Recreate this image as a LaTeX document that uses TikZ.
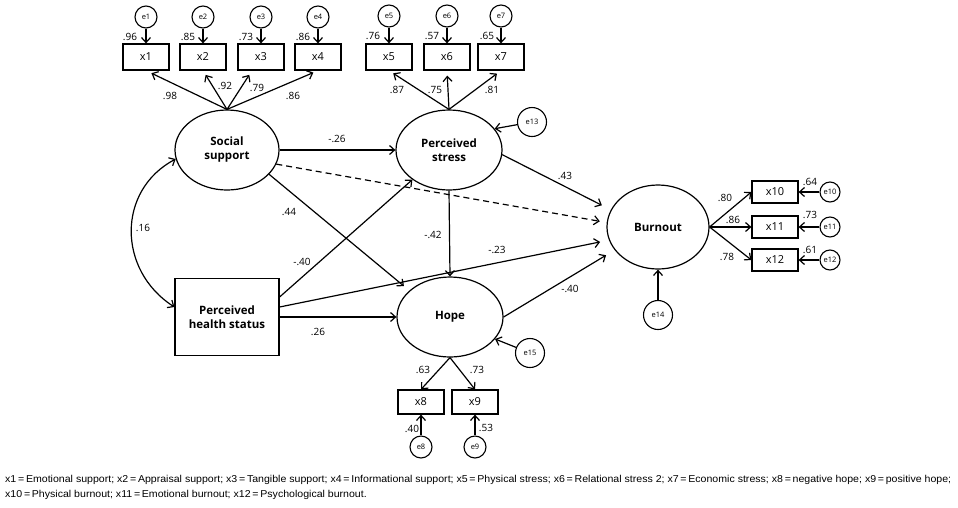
\documentclass[tikz,border=0pt]{standalone}
\usepackage{graphicx}
\usepackage{fontspec}
\setmainfont{Open Sans}
\newfontfamily\capfont{Liberation Sans}
\usetikzlibrary{shapes.geometric,arrows.meta}
\begin{document}
\begin{tikzpicture}[x=1pt,y=-1pt,
  lat/.style={ellipse,draw,line width=1.2pt,inner sep=0pt,align=center,font=\bfseries\fontsize{11.5}{14}\selectfont},
  obs/.style={rectangle,draw,line width=1.2pt,minimum width=46pt,minimum height=25pt,inner sep=0pt,font=\fontsize{11}{12}\selectfont},
  err/.style={circle,draw,line width=1.1pt,minimum size=22pt,inner sep=0pt,font=\fontsize{7.5}{8}\selectfont},
  errb/.style={err,minimum size=29pt},
  errs/.style={err,minimum size=20pt},
  arr/.style={draw,line width=1.2pt,-{Straight Barb[length=5pt,width=9pt,line width=1.2pt]}},
  lab/.style={inner sep=0pt,font=\fontsize{10}{11}\selectfont}
]
\useasboundingbox (0,0) rectangle (958,507);

% latent variables
\node[lat,minimum width=104pt,minimum height=80pt] (ss) at (227,150) {Social\\support};
\node[lat,minimum width=106pt,minimum height=80pt] (ps) at (449,150) {Perceived\\stress};
\node[lat,minimum width=106pt,minimum height=80pt] (hope) at (450,317) {Hope};
\node[lat,minimum width=102pt,minimum height=84pt] (bo) at (658,227) {Burnout};
\node[obs,minimum width=104pt,minimum height=77pt,align=center,font=\bfseries\fontsize{11.5}{14}\selectfont] (hs) at (227,317) {Perceived\\health status};

% indicators
\node[obs,minimum height=26pt] (x1) at (146,57) {x1};
\node[obs,minimum height=26pt] (x2) at (203,57) {x2};
\node[obs,minimum height=26pt] (x3) at (261,57) {x3};
\node[obs,minimum height=26pt] (x4) at (318,57) {x4};
\node[obs,minimum height=26pt] (x5) at (389,57) {x5};
\node[obs,minimum height=26pt] (x6) at (447,57) {x6};
\node[obs,minimum height=26pt] (x7) at (501,57) {x7};
\node[obs,minimum height=24pt] (x8) at (421,402) {x8};
\node[obs,minimum height=24pt] (x9) at (475,402) {x9};
\node[obs,minimum height=22pt] (x10) at (775,192) {x10};
\node[obs,minimum height=22pt] (x11) at (775,227) {x11};
\node[obs,minimum height=22pt] (x12) at (775,260) {x12};

% errors
\node[err] (e1) at (146,17) {e1};
\node[err] (e2) at (203,17) {e2};
\node[err] (e3) at (261,17) {e3};
\node[err] (e4) at (318,17) {e4};
\node[err] (e5) at (389,16) {e5};
\node[err] (e6) at (447,16) {e6};
\node[err] (e7) at (501,16) {e7};
\node[err] (e8) at (421,447) {e8};
\node[err] (e9) at (475,447) {e9};
\node[errs] (e10) at (830,192) {e10};
\node[errs] (e11) at (830,227) {e11};
\node[errs] (e12) at (830,260) {e12};
\node[errb] (e13) at (532,122) {e13};
\node[errb] (e14) at (658,315) {e14};
\node[errb] (e15) at (530,353) {e15};

% error arrows
\foreach \e/\x in {e1/x1,e2/x2,e3/x3,e4/x4,e5/x5,e6/x6,e7/x7,e8/x8,e9/x9,e10/x10,e11/x11,e12/x12}
  \draw[arr] (\e) -- (\x);
\draw[arr] (e13) -- (ps.25);
\draw[arr] (e15) -- (hope.-26);
\draw[arr] (e14) -- (bo.south);

% loadings
\draw[arr,shorten >=6pt] (ss.north) -- (x1.south);
\draw[arr,shorten >=5pt] (ss.north) -- (x2.south);
\draw[arr,shorten >=5pt] (ss.north) -- ([xshift=-9pt]x3.south);
\draw[arr,shorten >=5pt] (ss.north) -- (x4.south);
\draw[arr,shorten >=5pt] (ps.north) -- (x5.south);
\draw[arr,shorten >=5pt] (ps.north) -- (x6.south);
\draw[arr,shorten >=5pt] (ps.north) -- (x7.south);
\draw[arr] (hope.south) -- (x8.north);
\draw[arr] (hope.south) -- (x9.north);
\draw[arr] (bo.east) -- (x10.west);
\draw[arr] (bo.east) -- (x11.west);
\draw[arr] (bo.east) -- (x12.west);

% structural paths
\draw[arr] (ss.east) -- (ps.west);
\draw[arr,dash pattern=on 6pt off 4pt,shorten >=7pt] (ss.-16) -- (bo.175);
\draw[arr,shorten >=7pt] (ss.-30) -- (hope.147);
\draw[arr] ([yshift=20pt]hs.east) -- (ps.219);
\draw[arr,shorten >=9pt] ([yshift=10pt]hs.east) -- (bo.195);
\draw[arr] (hs.east) -- (hope.west);
\draw[arr] (ps.south) -- (hope.north);
\draw[arr,shorten >=10pt] (ps.-5) -- (bo.160);
\draw[arr,shorten >=10pt] (hope.east) -- (bo.208);
\draw[line width=1.2pt,{Straight Barb[length=5pt,width=9pt,line width=1.2pt]}-{Straight Barb[length=5pt,width=9pt,line width=1.2pt]}]
  (ss.190) .. controls (117,190) and (117,270) .. ([yshift=10pt]hs.west);

% labels
\node[lab] (l1) at (130,37) {.96};
\node[lab] (l2) at (188,37) {.85};
\node[lab] (l3) at (246,37) {.73};
\node[lab] (l4) at (303,37) {.86};
\node[lab] (l5) at (170,96) {.98};
\node[lab] (l6) at (225,86) {.92};
\node[lab] (l7) at (257,88) {.79};
\node[lab] (l8) at (293,96) {.86};
\node[lab] (l9) at (373,36) {.76};
\node[lab] (l10) at (432,36) {.57};
\node[lab] (l11) at (487,36) {.65};
\node[lab] (l12) at (397,90) {.87};
\node[lab] (l13) at (435,90) {.75};
\node[lab] (l14) at (492,90) {.81};
\node[lab] (l15) at (337,139) {-.26};
\node[lab] (l16) at (289,212) {.44};
\node[lab] (l17) at (302,262) {-.40};
\node[lab] (l18) at (143,228) {.16};
\node[lab] (l19) at (318,332) {.26};
\node[lab] (l20) at (433,235) {-.42};
\node[lab] (l21) at (497,250) {-.23};
\node[lab] (l22) at (565,176) {.43};
\node[lab] (l23) at (570,289) {-.40};
\node[lab] (l24) at (725,198) {.80};
\node[lab] (l25) at (733,220) {.86};
\node[lab] (l26) at (727,257) {.78};
\node[lab] (l27) at (810,182) {.64};
\node[lab] (l28) at (810,215) {.73};
\node[lab] (l29) at (810,250) {.61};
\node[lab] (l30) at (423,370) {.63};
\node[lab] (l31) at (477,370) {.73};
\node[lab] (l32) at (412,429) {.40};
\node[lab] (l33) at (486,428) {.53};

% caption
\node[anchor=north west,inner sep=0pt] (cap) at (5,472) {\resizebox{946pt}{\height}{\capfont\fontsize{10}{15}\selectfont\begin{tabular}{@{}l@{}}x1\,=\,Emotional support; x2\,=\,Appraisal support; x3\,=\,Tangible support; x4\,=\,Informational support; x5\,=\,Physical stress; x6\,=\,Relational stress 2; x7\,=\,Economic stress; x8\,=\,negative hope; x9\,=\,positive hope;\\x10\,=\,Physical burnout; x11\,=\,Emotional burnout; x12\,=\,Psychological burnout.\end{tabular}}};
\end{tikzpicture}
\end{document}
